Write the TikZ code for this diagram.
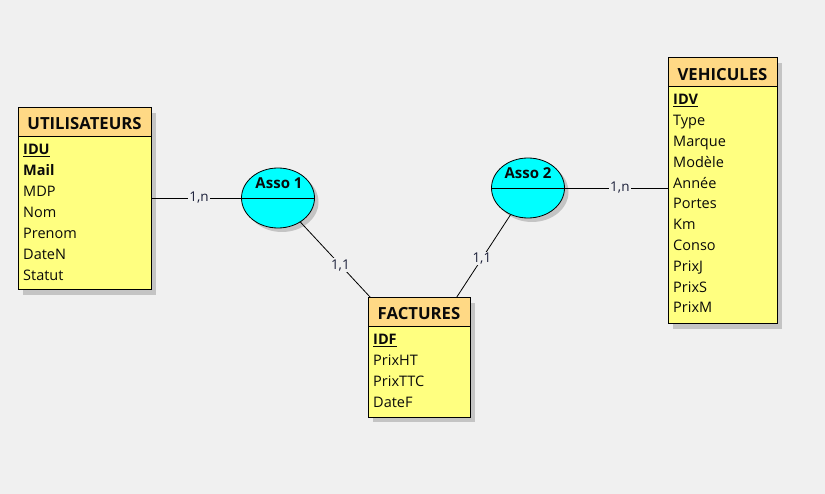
\documentclass[tikz,border=0pt]{standalone}
\usepackage{fontspec}
\setmainfont{Open Sans}
\usetikzlibrary{shapes.geometric,shadows}
\definecolor{bg}{HTML}{F0F0F0}
\definecolor{hdr}{HTML}{FFD985}
\definecolor{bodyc}{HTML}{FFFF80}
\definecolor{assoc}{HTML}{00FFFF}
\definecolor{shd}{HTML}{C4C4C4}
\definecolor{txt}{HTML}{0A0A0A}
\definecolor{lblc}{HTML}{1A1E38}
\begin{document}
\begin{tikzpicture}[x=1pt,y=-1pt,
  ent/.style={draw=black, line width=1pt, fill=bodyc, inner sep=0pt,
    general shadow={fill=shd, shadow xshift=5pt, shadow yshift=-5pt}},
  hd/.style={draw=black, line width=1pt, fill=hdr, inner sep=0pt},
  htxt/.style={anchor=base, inner sep=0pt, text=txt, font=\fontsize{16.7}{19}\selectfont\bfseries},
  row/.style={anchor=base west, inner sep=0pt, text=txt, font=\fontsize{14.5}{16}\selectfont},
  asso/.style={ellipse, draw=black, line width=0.8pt, fill=assoc, inner sep=0pt,
    minimum width=73pt, minimum height=60pt,
    general shadow={fill=shd, shadow xshift=4pt, shadow yshift=-4pt}},
  atxt/.style={anchor=base, inner sep=0pt, text=txt, font=\fontsize{15}{17}\selectfont\bfseries},
  conn/.style={draw=black, line width=0.8pt},
  lbl/.style={fill=bg, inner sep=1pt, text=lblc, font=\fontsize{13.5}{15}\selectfont}
]
\path[use as bounding box, fill=bg] (0,0) rectangle (825,494);

% UTILISATEURS
\node[ent, minimum width=133pt, minimum height=182pt] (u) at (84.5,199) {};
\node[hd, minimum width=133pt, minimum height=29pt, anchor=north] (uh) at (u.north) {};
\node[htxt] (ut) at (84.5,130) {UTILISATEURS};
\node[row] (u1) at (23,155) {\textbf{\underline{IDU}}};
\node[row] (u2) at (23,176) {\textbf{Mail}};
\node[row] (u3) at (23,197) {MDP};
\node[row] (u4) at (23,218) {Nom};
\node[row] (u5) at (23,239) {Prenom};
\node[row] (u6) at (23,260) {DateN};
\node[row] (u7) at (23,281) {Statut};

% VEHICULES
\node[ent, minimum width=109pt, minimum height=266pt] (v) at (722.5,191) {};
\node[hd, minimum width=109pt, minimum height=29pt, anchor=north] (vh) at (v.north) {};
\node[htxt] (vt) at (722.5,81) {VEHICULES};
\node[row] (v1) at (673,105) {\textbf{\underline{IDV}}};
\node[row] (v2) at (673,125.8) {Type};
\node[row] (v3) at (673,146.6) {Marque};
\node[row] (v4) at (673,167.4) {Modèle};
\node[row] (v5) at (673,188.2) {Année};
\node[row] (v6) at (673,209) {Portes};
\node[row] (v7) at (673,229.8) {Km};
\node[row] (v8) at (673,250.6) {Conso};
\node[row] (v9) at (673,271.4) {PrixJ};
\node[row] (v10) at (673,292.2) {PrixS};
\node[row] (v11) at (673,313) {PrixM};

% FACTURES
\node[ent, minimum width=102pt, minimum height=119pt] (f) at (419,357.5) {};
\node[hd, minimum width=102pt, minimum height=29pt, anchor=north] (fh) at (f.north) {};
\node[htxt] (ft) at (419,320) {FACTURES};
\node[row] (f1) at (373,345) {\textbf{\underline{IDF}}};
\node[row] (f2) at (373,366) {PrixHT};
\node[row] (f3) at (373,387) {PrixTTC};
\node[row] (f4) at (373,407.5) {DateF};

% Associations
\node[asso] (a1) at (278,198) {};
\draw[line width=0.8pt] (a1.west) -- (a1.east);
\node[atxt] (a1t) at (279,188.5) {Asso 1};
\node[asso] (a2) at (528,188) {};
\draw[line width=0.8pt] (a2.west) -- (a2.east);
\node[atxt] (a2t) at (528,179) {Asso 2};

% connectors
\coordinate (fa) at ([xshift=3pt]f.north west);
\coordinate (fb) at ([xshift=-14pt]f.north east);
\draw[conn] (a1.west) -- (a1.west -| u.east) node[lbl, pos=0.47] {1,n};
\draw[conn] (a1) -- (fa) node[lbl, pos=0.57] {1,1};
\draw[conn] (a2) -- (fb) node[lbl, pos=0.53] {1,1};
\draw[conn] (a2.east) -- (a2.east -| v.west) node[lbl, pos=0.536] {1,n};
\end{tikzpicture}
\end{document}
